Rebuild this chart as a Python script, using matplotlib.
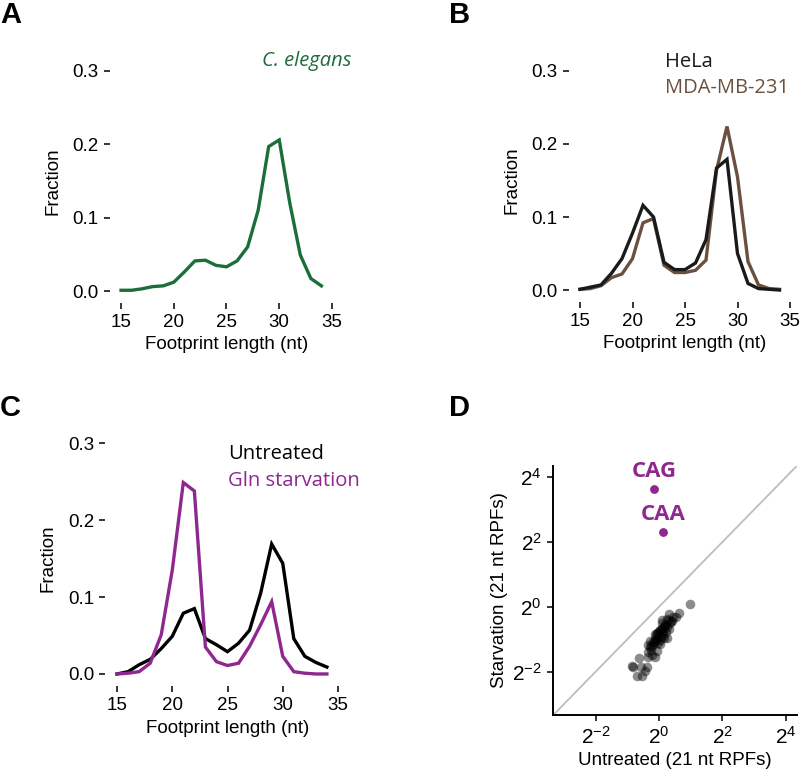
import numpy as np
import matplotlib
matplotlib.use("Agg")
import matplotlib.pyplot as plt
from matplotlib.ticker import FixedLocator, FuncFormatter

plt.rcParams['font.family'] = ['Liberation Sans', 'DejaVu Sans']
plt.rcParams['mathtext.fontset'] = 'custom'
plt.rcParams['mathtext.rm'] = 'Liberation Sans'
plt.rcParams['mathtext.it'] = 'Liberation Sans:italic'
plt.rcParams['mathtext.bf'] = 'Liberation Sans:bold'

# footprint lengths (nt)
lengths = np.arange(15, 35)

# A: C. elegans
celegans = [0.001, 0.001, 0.003, 0.006, 0.007, 0.012, 0.026, 0.041, 0.042, 0.035,
            0.033, 0.041, 0.060, 0.110, 0.197, 0.206, 0.120, 0.049, 0.017, 0.007]

# B: human cell lines
hela = [0.001, 0.004, 0.007, 0.023, 0.043, 0.078, 0.116, 0.100, 0.038, 0.028,
        0.028, 0.037, 0.069, 0.167, 0.179, 0.050, 0.009, 0.002, 0.001, 0.000]
mda = [0.001, 0.002, 0.006, 0.017, 0.022, 0.043, 0.092, 0.098, 0.034, 0.024,
       0.024, 0.027, 0.041, 0.164, 0.224, 0.155, 0.039, 0.007, 0.002, 0.001]

# C: untreated vs glutamine starvation
untreated = [0.000, 0.003, 0.012, 0.019, 0.033, 0.049, 0.079, 0.085, 0.046, 0.038,
             0.029, 0.040, 0.057, 0.105, 0.169, 0.144, 0.046, 0.023, 0.015, 0.009]
gln = [0.000, 0.001, 0.003, 0.014, 0.051, 0.135, 0.249, 0.238, 0.035, 0.016,
       0.011, 0.014, 0.036, 0.064, 0.094, 0.023, 0.003, 0.001, 0.000, 0.000]

# D: codon 21 nt RPF densities (log2 values)
codon_x = [0.98, 0.64, 0.54, 0.30, 0.24, 0.37, 0.19, 0.08, -0.02, 0.14, 0.24, -0.13,
           0.03, -0.28, -0.34, -0.18, -0.02, -0.26, -0.07, -0.23, -0.62, -0.34, -0.13,
           -0.81, -0.58, -0.44, -0.71, -0.53, -0.86, -0.39, 0.14, 0.30, 0.03, -0.09,
           0.08, 0.45, 0.20, -0.05, 0.10, -0.20, 0.00, 0.35, -0.30, -0.10, 0.12,
           0.22, 0.05, -0.15, 0.18, -0.25, 0.28, 0.10, -0.05, 0.40, -0.35, 0.15,
           0.02, -0.12, 0.25]
codon_y = [0.10, -0.19, -0.31, -0.21, -0.36, -0.43, -0.57, -0.51, -0.82, -0.82, -0.95,
           -0.98, -1.01, -1.05, -1.18, -1.18, -1.13, -1.32, -1.36, -1.49, -1.59, -1.54,
           -1.54, -1.87, -1.87, -1.98, -2.14, -2.14, -1.83, -1.85, -0.72, -0.67, -0.70,
           -0.87, -0.41, -0.30, -0.60, -0.95, -0.65, -1.10, -0.75, -0.50, -1.25, -1.05,
           -0.90, -0.78, -0.92, -1.10, -0.55, -1.20, -0.40, -0.68, -0.80, -0.45, -1.40,
           -0.95, -1.15, -0.85, -0.62]
gln_codons = ['CAG', 'CAA']
gln_x = [-0.15, 0.14]
gln_y = [3.64, 2.30]

GREEN = '#1b6e3a'
BROWN = '#6b5040'
PURPLE = '#8e278f'
DARK = '#1a1a1a'

W, H = 800, 773
fig = plt.figure(figsize=(W / 100, H / 100), dpi=100)


def axes_px(l, t, r, b):
    return fig.add_axes([l / W, 1 - b / H, (r - l) / W, (b - t) / H])


def style_dist(ax):
    for s in ax.spines.values():
        s.set_visible(False)
    ax.spines['left'].set_position(('outward', 2))
    ax.spines['bottom'].set_position(('outward', 2))
    ax.set_xlim(14.2, 35.8)
    ax.set_ylim(-0.012, 0.312)
    ax.set_xticks([15, 20, 25, 30, 35])
    ax.set_yticks([0, 0.1, 0.2, 0.3])
    ax.yaxis.set_major_formatter(FuncFormatter(lambda v, p: f'{v:.1f}'))
    ax.tick_params(direction='out', length=4, width=1.1, labelsize=13.5, pad=4)
    ax.set_xlabel('Footprint length (nt)', fontsize=13.5, labelpad=4)
    ax.set_ylabel('Fraction', fontsize=13.5, labelpad=8)
    ax.patch.set_visible(False)


lw = 2.4

# A
axA = axes_px(112.6, 62.2, 340.4, 299.8)
style_dist(axA)
axA.plot(lengths, celegans, color=GREEN, lw=lw, solid_joinstyle='miter')

# B
axB = axes_px(571.6, 62.2, 798.4, 298.8)
style_dist(axB)
axB.plot(lengths, mda, color=BROWN, lw=lw, solid_joinstyle='miter')
axB.plot(lengths, hela, color=DARK, lw=lw, solid_joinstyle='miter')

# C
axC = axes_px(108.2, 434.1, 346.8, 683.2)
style_dist(axC)
axC.plot(lengths, untreated, color='black', lw=lw, solid_joinstyle='miter')
axC.plot(lengths, gln, color=PURPLE, lw=lw, solid_joinstyle='miter')

# D
axD = axes_px(553, 466, 797, 715)
axD.set_xscale('log', base=2)
axD.set_yscale('log', base=2)
lo_x, hi_x = 2 ** -3.35, 2 ** 4.36
lo_y, hi_y = 2 ** -3.34, 2 ** 4.35
axD.plot([lo_x, hi_x], [lo_x, hi_x], color='#bdbdbd', lw=1.3, zorder=1)
axD.scatter(2.0 ** np.array(codon_x), 2.0 ** np.array(codon_y), s=48,
            color='black', alpha=0.45, linewidths=0, zorder=2)
axD.scatter(2.0 ** np.array(gln_x), 2.0 ** np.array(gln_y), s=40,
            color=PURPLE, linewidths=0, zorder=3)
for name, gx, gy in zip(gln_codons, gln_x, gln_y):
    axD.text(2.0 ** gx, 2.0 ** (gy + 0.38), name, color=PURPLE, fontsize=16,
             fontweight='bold', family=['Open Sans', 'DejaVu Sans'],
             ha='center', va='baseline')
axD.set_xlim(lo_x, hi_x)
axD.set_ylim(lo_y, hi_y)
ticks = [2.0 ** k for k in (-2, 0, 2, 4)]
axD.xaxis.set_major_locator(FixedLocator(ticks))
axD.yaxis.set_major_locator(FixedLocator(ticks))
axD.xaxis.set_minor_locator(FixedLocator([]))
axD.yaxis.set_minor_locator(FixedLocator([]))
fmt = FuncFormatter(lambda v, p: r'$2^{%d}$' % round(np.log2(v)))
axD.xaxis.set_major_formatter(fmt)
axD.yaxis.set_major_formatter(fmt)
for s in ('top', 'right'):
    axD.spines[s].set_visible(False)
for s in ('left', 'bottom'):
    axD.spines[s].set_linewidth(1.4)
axD.tick_params(direction='out', length=4, width=1.1, labelsize=15, pad=4)
axD.set_xlabel('Untreated (21 nt RPFs)', fontsize=13.5, labelpad=3)
axD.set_ylabel('Starvation (21 nt RPFs)', fontsize=13.5, labelpad=3)

# legend-like texts
hum = ['Open Sans', 'DejaVu Sans']
fig.text(262 / W, 1 - 66 / H, 'C. elegans', color=GREEN, fontsize=14.5,
         style='italic', family=hum, va='baseline')
fig.text(665 / W, 1 - 67 / H, 'HeLa', color=DARK, fontsize=14.5, family=hum, va='baseline')
fig.text(665 / W, 1 - 93 / H, 'MDA-MB-231', color=BROWN, fontsize=14.5, family=hum,
         va='baseline')
fig.text(228 / W, 1 - 459 / H, 'Untreated', color='black', fontsize=14.5, family=hum,
         va='baseline')
fig.text(228 / W, 1 - 486 / H, 'Gln starvation', color=PURPLE, fontsize=14.5, family=hum,
         va='baseline')

# panel letters
for letter, px, py in (('A', 0, 23), ('B', 449, 23), ('C', 0, 416), ('D', 449, 416)):
    fig.text(px / W, 1 - py / H, letter, fontsize=21, fontweight='bold', va='baseline')

fig.savefig('out.png', dpi=100)
